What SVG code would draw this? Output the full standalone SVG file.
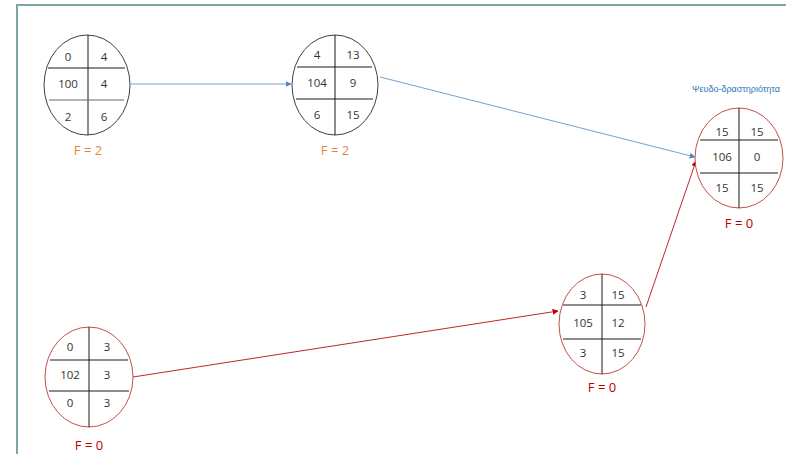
<svg xmlns="http://www.w3.org/2000/svg" width="786" height="454" viewBox="0 0 786 454">
<style>
.bg{fill:#ffffff}
.frame{fill:none;stroke:#7ea6a6;stroke-width:2}
.ob{fill:#ffffff;stroke:#404040;stroke-width:1}
.or{fill:#ffffff;stroke:#c0504d;stroke-width:1}
.div{stroke:#1a1a1a;stroke-width:1}
.num{font-family:"Open Sans","Liberation Sans",sans-serif;font-size:11.5px;fill:#333333;text-anchor:middle}
.fo{font-family:"Open Sans","Liberation Sans",sans-serif;font-size:13px;fill:#e08a3c;text-anchor:middle}
.fr{font-family:"Open Sans","Liberation Sans",sans-serif;font-size:13px;fill:#c00000;text-anchor:middle}
.lab{font-family:"Liberation Sans",sans-serif;font-size:8.5px;fill:#2e75b6}
.cb{fill:none;stroke:#6fa3cf;stroke-width:1}
.cr{fill:none;stroke:#c0262b;stroke-width:1}
</style>
<defs>
<marker id="ab" viewBox="0 0 10 10" refX="9" refY="5" markerWidth="6" markerHeight="6" orient="auto" markerUnits="userSpaceOnUse"><path d="M0,0 L10,5 L0,10 z" fill="#4f87c0"/></marker>
<marker id="ar" viewBox="0 0 10 10" refX="9" refY="5" markerWidth="6" markerHeight="6" orient="auto" markerUnits="userSpaceOnUse"><path d="M0,0 L10,5 L0,10 z" fill="#c00000"/></marker>
</defs>
<rect class="bg" x="0" y="0" width="786" height="454"/>
<path class="frame" d="M17,454 L17,5 L786,5"/>
<g id="connectors">
<line class="cb" x1="131" y1="84" x2="291" y2="84" marker-end="url(#ab)"/>
<line class="cb" x1="380" y1="77" x2="695" y2="157" marker-end="url(#ab)"/>
<line class="cr" x1="133" y1="377" x2="558" y2="311" marker-end="url(#ar)"/>
<line class="cr" x1="646" y1="307" x2="696" y2="161" marker-end="url(#ar)"/>
</g>
<g id="n100">
<ellipse class="ob" cx="87" cy="85" rx="43" ry="50"/>
<line class="div" x1="88" y1="35" x2="88" y2="135"/>
<line class="div" x1="48" y1="68" x2="125" y2="68"/>
<line class="div" x1="49" y1="100" x2="124" y2="100" style="stroke:#666"/>
<text class="num" x="68" y="61">0</text><text class="num" x="104" y="61">4</text>
<text class="num" x="68" y="88">100</text><text class="num" x="104" y="88">4</text>
<text class="num" x="68" y="121">2</text><text class="num" x="104" y="121">6</text>
<text class="fo" x="88" y="155">F = 2</text>
</g>
<g id="n104">
<ellipse class="ob" cx="335" cy="85" rx="43" ry="50"/>
<line class="div" x1="335" y1="35" x2="335" y2="135"/>
<line class="div" x1="297" y1="67" x2="372" y2="67"/>
<line class="div" x1="296" y1="99" x2="373" y2="99"/>
<text class="num" x="317" y="59">4</text><text class="num" x="353" y="59">13</text>
<text class="num" x="317" y="87">104</text><text class="num" x="353" y="87">9</text>
<text class="num" x="317" y="119">6</text><text class="num" x="353" y="119">15</text>
<text class="fo" x="335" y="155">F = 2</text>
</g>
<g id="n106">
<text class="lab" x="692" y="92" textLength="88" lengthAdjust="spacingAndGlyphs">Ψευδο-δραστηριότητα</text>
<ellipse class="or" cx="739" cy="158" rx="44" ry="50"/>
<line class="div" x1="739" y1="108" x2="739" y2="208"/>
<line class="div" x1="700" y1="140" x2="778" y2="140"/>
<line class="div" x1="700" y1="173" x2="778" y2="173"/>
<text class="num" x="722" y="136">15</text><text class="num" x="757" y="136">15</text>
<text class="num" x="722" y="161">106</text><text class="num" x="757" y="161">0</text>
<text class="num" x="722" y="192">15</text><text class="num" x="757" y="192">15</text>
<text class="fr" x="739" y="228">F = 0</text>
</g>
<g id="n105">
<ellipse class="or" cx="602" cy="324" rx="43" ry="50"/>
<line class="div" x1="602" y1="274" x2="602" y2="374"/>
<line class="div" x1="563" y1="305" x2="641" y2="305"/>
<line class="div" x1="563" y1="339" x2="641" y2="339"/>
<text class="num" x="583" y="299">3</text><text class="num" x="618" y="299">15</text>
<text class="num" x="583" y="327">105</text><text class="num" x="618" y="327">12</text>
<text class="num" x="583" y="357">3</text><text class="num" x="618" y="357">15</text>
<text class="fr" x="602" y="392">F = 0</text>
</g>
<g id="n102">
<ellipse class="or" cx="89" cy="377" rx="44" ry="50"/>
<line class="div" x1="89" y1="327" x2="89" y2="427"/>
<line class="div" x1="50" y1="360" x2="128" y2="360"/>
<line class="div" x1="49" y1="391" x2="129" y2="391"/>
<text class="num" x="70" y="351">0</text><text class="num" x="107" y="351">3</text>
<text class="num" x="70" y="379">102</text><text class="num" x="107" y="379">3</text>
<text class="num" x="70" y="407">0</text><text class="num" x="107" y="407">3</text>
<text class="fr" x="89" y="450">F = 0</text>
</g>
</svg>
